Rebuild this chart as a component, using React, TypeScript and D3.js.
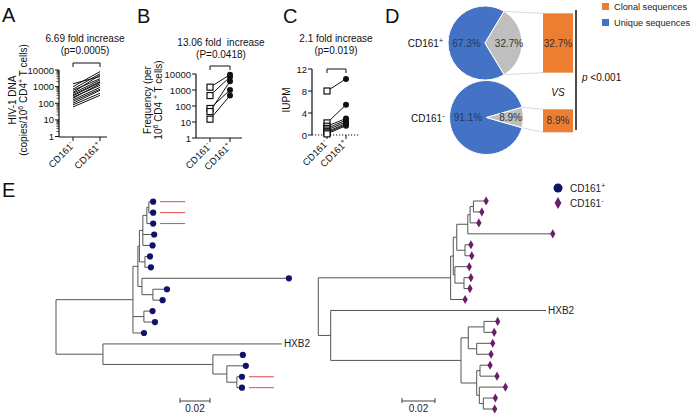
import React from "react";
import * as d3 from "d3";

const FONT = "'Liberation Sans', Arial, Helvetica, sans-serif";

// A: HIV-1 DNA (copies / 10^6 CD4+ T cells)
const dnaNeg = [1500, 1000, 700, 600, 450, 400, 320, 280, 230, 200, 160, 130, 100, 80, 60];
const dnaPos = [4000, 8000, 6000, 3000, 5000, 2500, 2000, 1800, 1200, 1500, 900, 700, 600, 400, 300];
const logTicks = [1, 10, 100, 1000, 10000];

// B: frequency per 10^6 CD4+ T cells
const freqNeg = [1500, 450, 70, 45, 15];
const freqPos = [9000, 6500, 1000, 3500, 450];

// C: IUPM
const iupmNeg = [8, 2.2, 1.6, 1.2, 0.9, 0.6, 0.4, 0.2];
const iupmPos = [10.2, 5.5, 3.0, 2.7, 2.4, 2.1, 1.9, 1.7];
const iupmTicks = [0, 4, 8, 12];

// D: sequence composition
const pieGroups = ["+", "-"];
const clonalPct = [32.7, 8.9];
const uniquePct = [67.3, 91.1];

// E: neighbour-joining trees (branch lengths in substitutions/site)
const treeCd161Pos =
  "(((((((a0:0.0022,a1:0.0022):0.0013,a2:0.0035):0.0027,a3:0.0069,a4:0.0058):0.0023,(a5:0.0027,a6:0.0033):0.0037):0.001,(a7:0.0973,(a8:0.0087,a9:0.0058):0.0073):0.0027):0.0033,(a10:0.0051,a11:0.0067):0.0073,a12:0.0067):0.0513,(HXB2:0.1193,(a14:0.0193,(a15:0.012,(a16:0.0027,a17:0.0027):0.0067):0.0093):0.0733):0.0313);";
const treeCd161Neg =
  "(((((((r0:0.0071,r1:0.0045):0.002,r2:0.0047):0.0014,r3:0.0509):0.0067,(r4:0.003,r5:0.0035):0.005):0.0021,(r6:0.0081,(r7:0.0036,r8:0.003):0.0055):0.001):0.0016,r9:0.0082):0.0802,(HXB2:0.1305,(((s0:0.0077,s1:0.0056):0.0095,(s2:0.0091,s3:0.0081):0.0051):0.0044,((s4:0.0055,s5:0.0097):0.002,(s6:0.0152,(s7:0.0067,s8:0.0063):0.0024):0.0016):0.0095):0.079):0.0075);";
const clonalLeaves = ["a0", "a1", "a2", "a16", "a17"];

const BLUE = "#4472C4";
const GRAY = "#BFBFBF";
const ORANGE = "#ED7D31";
const NAVY = "#12126a";
const PURPLE = "#6b1e6b";

function parseNewick(s: string) {
  const ancestors: any[] = [];
  let tree: any = {};
  const tokens = s.split(/\s*(;|\(|\)|,|:)\s*/);
  for (let i = 0; i < tokens.length; i++) {
    const t = tokens[i];
    if (t === "(") {
      const sub: any = {};
      tree.children = [sub];
      ancestors.push(tree);
      tree = sub;
    } else if (t === ",") {
      const sub: any = {};
      ancestors[ancestors.length - 1].children.push(sub);
      tree = sub;
    } else if (t === ")") {
      tree = ancestors.pop();
    } else if (t === ":" || t === ";" || t === "") {
      // separators
    } else {
      const prev = tokens[i - 1];
      if (prev === ":") tree.length = parseFloat(t);
      else tree.name = t;
    }
  }
  return tree;
}

const sign = (s: string) => (
  <>
    <tspan>CD161</tspan>
    <tspan dy={-4} fontSize="0.7em">{s}</tspan>
  </>
);

type PanelProps = {
  neg: number[];
  pos: number[];
  y: any;
  ticks: number[];
  minor?: number[];
  x0: number;
  x1: number;
  baseY: number;
  cats: number[];
  markers: boolean;
  dotted?: boolean;
  title: string[];
  titleX: number;
  titleY: number;
  bracketY: number;
};

const PairPanel = (p: PanelProps) => {
  const top = p.y(p.ticks[p.ticks.length - 1]);
  return (
    <g fontFamily={FONT} fill="#111">
      <text x={p.titleX} y={p.titleY} textAnchor="middle" fontSize={10}>{p.title[0]}</text>
      <text x={p.titleX} y={p.titleY + 12} textAnchor="middle" fontSize={10}>{p.title[1]}</text>
      <path
        d={`M${p.cats[0]},${p.bracketY + 4}V${p.bracketY}H${p.cats[1]}V${p.bracketY + 4}`}
        fill="none" stroke="#111" strokeWidth={1}
      />
      <line x1={p.x0} x2={p.x0} y1={top} y2={p.baseY} stroke="#111" strokeWidth={1.2} />
      {(p.minor || []).map((t, i) => (
        <line key={"m" + i} x1={p.x0 - 2.5} x2={p.x0} y1={p.y(t)} y2={p.y(t)} stroke="#111" strokeWidth={0.7} />
      ))}
      {p.ticks.map((t) => (
        <g key={t}>
          <line x1={p.x0 - 4} x2={p.x0} y1={p.y(t)} y2={p.y(t)} stroke="#111" strokeWidth={1} />
          <text x={p.x0 - 5} y={p.y(t) + 3.5} textAnchor="end" fontSize={9.5}>{t}</text>
        </g>
      ))}
      <line
        x1={p.x0} x2={p.x1} y1={p.baseY} y2={p.baseY}
        stroke="#111" strokeWidth={1.2} strokeDasharray={p.dotted ? "1.2,1.8" : undefined}
      />
      {p.cats.map((cx, i) => (
        <g key={i}>
          <line x1={cx} x2={cx} y1={p.baseY} y2={p.baseY + 4} stroke="#111" strokeWidth={1} />
          <text transform={`translate(${cx + 2},${p.baseY + 9}) rotate(-45)`} textAnchor="end" fontSize={9.5}>
            {sign(i === 0 ? "-" : "+")}
          </text>
        </g>
      ))}
      {p.neg.map((v, i) => (
        <line key={"l" + i} x1={p.cats[0]} x2={p.cats[1]} y1={p.y(v)} y2={p.y(p.pos[i])} stroke="#111" strokeWidth={1} />
      ))}
      {p.markers &&
        p.neg.map((v, i) => (
          <rect key={"s" + i} x={p.cats[0] - 3} y={p.y(v) - 3} width={6} height={6} fill="#fff" stroke="#111" strokeWidth={1.2} />
        ))}
      {p.markers &&
        p.pos.map((v, i) => <circle key={"c" + i} cx={p.cats[1]} cy={p.y(v)} r={3} fill="#111" />)}
    </g>
  );
};

const Tree = ({ newick, rootX, barPx, yTop, yBottom, marker, barX }: any) => {
  const root: any = d3.hierarchy(parseNewick(newick));
  const leaves = root.leaves();
  const yIdx = d3.scaleLinear().domain([0, leaves.length - 1]).range([yTop, yBottom]);
  const x = d3.scaleLinear().domain([0, 0.02]).range([rootX, rootX + barPx]);
  root.eachBefore((n: any) => {
    n.dist = (n.parent ? n.parent.dist : 0) + (n.data.length || 0);
    n.px = x(n.dist);
  });
  leaves.forEach((l: any, i: number) => (l.py = yIdx(i)));
  root.eachAfter((n: any) => {
    if (n.children) n.py = (n.children[0].py + n.children[n.children.length - 1].py) / 2;
  });
  const nodes = root.descendants();
  const diamond = d3.symbol(d3.symbolDiamond, 24)() as string;
  const barLen = x(0.02) - x(0);
  return (
    <g fontFamily={FONT}>
      {nodes.map((n: any, i: number) => (
        <g key={i} stroke="#555" strokeWidth={1}>
          {n.parent && <line x1={n.parent.px} x2={n.px} y1={n.py} y2={n.py} />}
          {n.children && (
            <line x1={n.px} x2={n.px} y1={n.children[0].py} y2={n.children[n.children.length - 1].py} />
          )}
        </g>
      ))}
      {leaves.map((l: any, i: number) =>
        l.data.name === "HXB2" ? (
          <text key={i} x={l.px + 2} y={l.py + 3.5} fontSize={10} fill="#222">HXB2</text>
        ) : marker === "circle" ? (
          <circle key={i} cx={l.px + 1} cy={l.py} r={3.1} fill={NAVY} />
        ) : (
          <path key={i} d={diamond} transform={`translate(${l.px + 1},${l.py})`} fill={PURPLE} />
        )
      )}
      {leaves
        .filter((l: any) => clonalLeaves.includes(l.data.name))
        .map((l: any, i: number) => (
          <line key={"r" + i} x1={l.px + 8} x2={l.px + 33} y1={l.py} y2={l.py} stroke="#e04848" strokeWidth={1} />
        ))}
      <path d={`M${barX},398V403M${barX},401H${barX + barLen}M${barX + barLen},398V403`} stroke="#444" strokeWidth={1} fill="none" />
      <text x={barX + barLen / 2} y={412} textAnchor="middle" fontSize={10} fill="#222">0.02</text>
    </g>
  );
};

const PiePanel = () => {
  const pies = pieGroups.map((g, i) => {
    const clonalAngle = (clonalPct[i] / 100) * 2 * Math.PI;
    const start = Math.PI / 2 - clonalAngle / 2;
    return d3
      .pie<number>()
      .sort(null)
      .startAngle(start)
      .endAngle(start + 2 * Math.PI)([clonalPct[i], uniquePct[i]]);
  });
  const centers = [
    [485, 43],
    [486.5, 117.5],
  ];
  const r = 37;
  const arc = d3.arc<any>().innerRadius(0).outerRadius(r);
  const lblBlue = d3.arc<any>().innerRadius(r * 0.5).outerRadius(r * 0.5);
  const lblGray = d3.arc<any>().innerRadius(r * 0.65).outerRadius(r * 0.65);
  const barX0 = 543;
  const barX1 = 573;
  return (
    <g fontFamily={FONT}>
      {pies.map((slices, i) => {
        const [cx, cy] = centers[i];
        const gray = slices[0];
        const pt = (a: number) => [cx + r * Math.sin(a), cy - r * Math.cos(a)];
        const p0 = pt(gray.startAngle);
        const p1 = pt(gray.endAngle);
        const barTop = p0[1] + 2;
        const barBot = Math.max(p1[1] - 2, barTop + 23);
        const bc = lblBlue.centroid(slices[1]);
        const gc = lblGray.centroid(gray);
        return (
          <g key={i}>
            <line x1={p0[0]} y1={p0[1]} x2={barX0} y2={barTop} stroke="#c9d2dc" strokeWidth={0.8} />
            <line x1={p1[0]} y1={p1[1]} x2={barX0} y2={barBot} stroke="#c9d2dc" strokeWidth={0.8} />
            <g transform={`translate(${cx},${cy})`}>
              <path d={arc(slices[1]) as string} fill={BLUE} stroke="#fff" strokeWidth={1} />
              <path d={arc(gray) as string} fill={GRAY} stroke="#fff" strokeWidth={1} />
              <text x={bc[0]} y={bc[1] + 3.5} textAnchor="middle" fontSize={10} fill="#1f3864">
                {uniquePct[i].toFixed(1)}%
              </text>
              <text x={gc[0]} y={gc[1] + 3.5} textAnchor="middle" fontSize={10} fill="#333">
                {clonalPct[i].toFixed(1)}%
              </text>
            </g>
            <text x={cx - r - 5} y={cy + 4} textAnchor="end" fontSize={10} fill="#111">
              {sign(pieGroups[i])}
            </text>
            <rect x={barX0} y={barTop} width={barX1 - barX0} height={barBot - barTop} fill={ORANGE} />
            <text x={(barX0 + barX1) / 2} y={(barTop + barBot) / 2 + 3.5} textAnchor="middle" fontSize={10} fill="#333">
              {clonalPct[i].toFixed(1)}%
            </text>
          </g>
        );
      })}
      <text x={558} y={96} textAnchor="middle" fontSize={10} fontStyle="italic" fill="#111">VS</text>
      <line x1={576} x2={576} y1={10} y2={130} stroke="#111" strokeWidth={1.5} />
      <text x={582} y={81} fontSize={10} fill="#111">
        <tspan fontStyle="italic">p</tspan> &lt;0.001
      </text>
      <rect x={602} y={3} width={7} height={7} fill={ORANGE} />
      <text x={614} y={9.5} fontSize={9.2} fill="#222">Clonal sequences</text>
      <rect x={602} y={19} width={7} height={7} fill={BLUE} />
      <text x={614} y={25.5} fontSize={9.2} fill="#222">Unique sequences</text>
    </g>
  );
};

export default function App() {
  const yA = d3.scaleLog().domain([1, 10000]).range([136.5, 70]);
  const minorA = yA.ticks().filter((t) => !logTicks.includes(t));
  const yB = d3.scaleLog().domain([1, 10000]).range([138, 74]);
  const yC = d3.scaleLinear().domain([0, 12]).range([135, 69]);
  const bigLetter = { fontFamily: FONT, fontSize: 20, fill: "#111" };

  return (
    <svg width={696} height={415} style={{ position: "absolute", left: 0, top: 0, background: "#fff" }}>
      <text x={2} y={22} {...bigLetter}>A</text>
      <text x={137} y={23} {...bigLetter}>B</text>
      <text x={283} y={23} {...bigLetter}>C</text>
      <text x={385} y={23} {...bigLetter}>D</text>
      <text x={2} y={197} {...bigLetter}>E</text>

      <PairPanel
        neg={dnaNeg} pos={dnaPos} y={yA} ticks={logTicks} minor={minorA}
        x0={59} x1={107} baseY={137} cats={[73, 100]} markers={false}
        title={["6.69 fold increase", "(p=0.0005)"]} titleX={85} titleY={42} bracketY={63}
      />
      <PairPanel
        neg={freqNeg} pos={freqPos} y={yB} ticks={logTicks}
        x0={196} x1={242} baseY={138} cats={[210, 230]} markers={true}
        title={["13.06 fold\u00a0 increase", "(P=0.0418)"]} titleX={221} titleY={46} bracketY={66}
      />
      <PairPanel
        neg={iupmNeg} pos={iupmPos} y={yC} ticks={iupmTicks}
        x0={312} x1={360} baseY={135} cats={[327, 346]} markers={true} dotted={true}
        title={["2.1 fold increase", "(p=0.019)"]} titleX={336} titleY={42} bracketY={69}
      />

      <g fontFamily={FONT} fontSize={10} fill="#111">
        <text transform="translate(16,100) rotate(-90)" textAnchor="middle">HIV-1 DNA</text>
        <text transform="translate(27,100) rotate(-90)" textAnchor="middle">
          (copies/10<tspan dy={-4} fontSize="0.7em">6</tspan>
          <tspan dy={4}> CD4</tspan>
          <tspan dy={-4} fontSize="0.7em">+</tspan>
          <tspan dy={4}> T cells)</tspan>
        </text>
        <text transform="translate(151,100) rotate(-90)" textAnchor="middle">Frequency (per</text>
        <text transform="translate(162,100) rotate(-90)" textAnchor="middle">
          10<tspan dy={-4} fontSize="0.7em">6</tspan>
          <tspan dy={4}> CD4 </tspan>
          <tspan dy={-4} fontSize="0.7em">+</tspan>
          <tspan dy={4}> T cells)</tspan>
        </text>
        <text transform="translate(290,100) rotate(-90)" textAnchor="middle">IUPM</text>
      </g>

      <PiePanel />

      <Tree newick={treeCd161Pos} rootX={56} barPx={30} yTop={201.7} yBottom={387.7} marker="circle" barX={180} />
      <Tree newick={treeCd161Neg} rootX={318.3} barPx={33} yTop={201} yBottom={409} marker="diamond" barX={402} />

      <g fontFamily={FONT} fontSize={10} fill="#222">
        <circle cx={558} cy={188} r={4.5} fill={NAVY} />
        <text x={570} y={191.5}>{sign("+")}</text>
        <path d={d3.symbol(d3.symbolDiamond, 40)() as string} transform="translate(558,203)" fill={PURPLE} />
        <text x={570} y={206.5}>{sign("-")}</text>
      </g>
    </svg>
  );
}
